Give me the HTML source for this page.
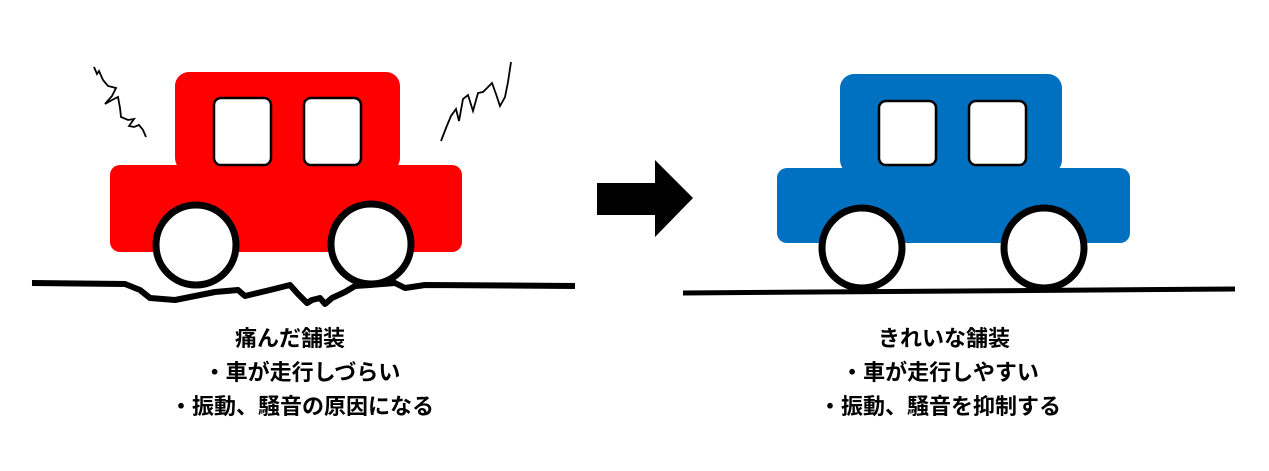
<!DOCTYPE html>
<html><head><meta charset="utf-8"><style>
html,body{margin:0;padding:0;background:#fff;width:1269px;height:471px;overflow:hidden}
text{font-family:"Liberation Sans","Noto Sans CJK JP",sans-serif;font-weight:bold;font-size:22px;fill:#000}
</style></head><body>
<svg width="1269" height="471" viewBox="0 0 1269 471" xmlns="http://www.w3.org/2000/svg">
<!-- red car -->
<rect x="175" y="72" width="225" height="100" rx="14" fill="#ff0000"/>
<rect x="110" y="165" width="352" height="87" rx="10" fill="#ff0000"/>
<rect x="214" y="98" width="57" height="67" rx="7" fill="#fff" stroke="#000" stroke-width="2.5"/>
<rect x="304" y="98" width="57" height="67" rx="7" fill="#fff" stroke="#000" stroke-width="2.5"/>
<path d="M32,283 L125,284 L140,290 L150,298 L175,300 L215,292 L238,290 L245,296 L270,290 L290,285 L298,294 L307,303 L312,300 L320,298 L325,304 L332,298 L345,292 L355,286 L370,285 L395,283 L405,288 L425,285 L575,286" fill="none" stroke="#000" stroke-width="6" stroke-linejoin="round"/>
<circle cx="196" cy="245" r="40" fill="#fff" stroke="#000" stroke-width="7"/>
<circle cx="371" cy="244" r="40" fill="#fff" stroke="#000" stroke-width="7"/>
<path d="M94,67 L97,74 L99,71 L103,80 L108,86 L116,88 L112,96 L105,104 L112,100 L118,97 L120,108 L121,117 L128,120 L134,119 L129,126 L134,127 L139,125 L143,130 L146,137" fill="none" stroke="#000" stroke-width="1.8"/>
<path d="M441,141 L446,128 L451,116 L456,109 L459,121 L463,99 L468,95 L473,111 L478,93 L483,92 L492,83 L496,94 L500,106 L505,97 L508,82 L511,62" fill="none" stroke="#000" stroke-width="1.8"/>
<!-- arrow -->
<polygon points="597,183 655,183 655,160 693,198 655,237 655,215 597,215" fill="#000"/>
<!-- blue car -->
<rect x="840" y="74" width="222" height="100" rx="14" fill="#0070c0"/>
<rect x="777" y="168" width="353" height="75" rx="10" fill="#0070c0"/>
<rect x="879" y="101" width="57" height="64" rx="7" fill="#fff" stroke="#000" stroke-width="2.5"/>
<rect x="969" y="101" width="57" height="64" rx="7" fill="#fff" stroke="#000" stroke-width="2.5"/>
<line x1="683" y1="293" x2="1235" y2="289" stroke="#000" stroke-width="5"/>
<circle cx="862" cy="248" r="40" fill="#fff" stroke="#000" stroke-width="7"/>
<circle cx="1044" cy="248" r="40" fill="#fff" stroke="#000" stroke-width="7"/>
<!-- text -->
<text x="290" y="346" text-anchor="middle">痛んだ舗装</text>
<text x="302" y="380" text-anchor="middle">・車が走行しづらい</text>
<text x="302" y="414" text-anchor="middle">・振動、騒音の原因になる</text>
<text x="944" y="346" text-anchor="middle">きれいな舗装</text>
<text x="940" y="380" text-anchor="middle">・車が走行しやすい</text>
<text x="940" y="414" text-anchor="middle">・振動、騒音を抑制する</text>
</svg>
</body></html>
